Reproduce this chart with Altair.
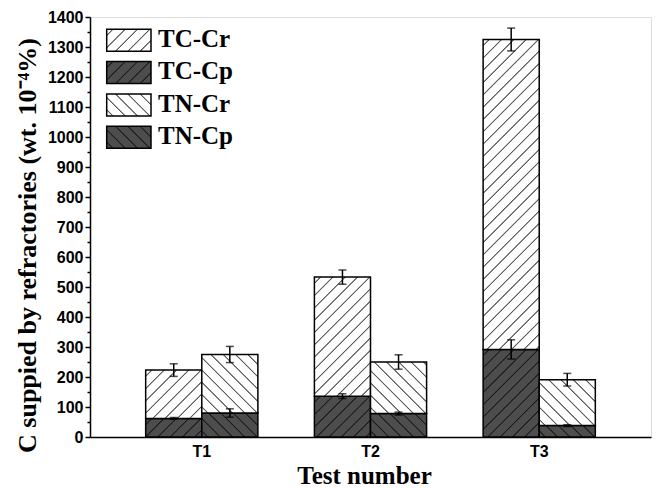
import math
import altair as alt
import pandas as pd

# ---------------- data ----------------
tests = ["T1", "T2", "T3"]
tc_cp = [62, 136, 292]          # TC-Cp (bottom of TC bar)
tc_cr = [161, 397, 1033]        # TC-Cr (stacked on top)
tn_cp = [80, 78, 38]            # TN-Cp
tn_cr = [195, 172, 153]         # TN-Cr
tc_cp_err = [3, 8, 32]
tc_cr_err = [21, 24, 38]
tn_cp_err = [14, 5, 3]
tn_cr_err = [27, 24, 21]
legend_labels = ["TC-Cr", "TC-Cp", "TN-Cr", "TN-Cp"]
y_ticks = list(range(0, 1401, 50))

# ---------------- layout / style constants ----------------
PLOT_W, PLOT_H = 561, 420
Y_MAX = 1400
PAD_INNER, PAD_OUTER = 0.335, 0.33
STEP = PLOT_W / (len(tests) - PAD_INNER + 2 * PAD_OUTER)
BAR_W = STEP * (1 - PAD_INNER) / 2
PX_PER_UNIT = PLOT_H / Y_MAX
LIGHT_BG, LIGHT_LINE = "#ffffff", "#5a5a5a"
DARK_BG, DARK_LINE = "#4d4d4d", "#1c1c1c"
SANS = "Liberation Sans"
SERIF = "Liberation Serif"


def hatch(w, h, direction, bg, fg, period=8.7, lw=1.1):
    """Diagonal hatch drawn as a hard-stop linear gradient (bbox units)."""
    L = (w + h) / math.sqrt(2)
    c = (w + h) / (w * w + h * h)
    if direction == "/":
        x1, y1, x2, y2 = 0, 0, w * c, h * c
    else:
        x1, y1, x2, y2 = 0, 1, w * c, 1 - h * c
    stops = [(0.0, bg)]
    hw, e = lw / 2, 0.3
    k = 0
    while True:
        cen = (k + 0.5) * period
        if cen - hw - e > L:
            break
        for off, col in ((cen - hw - e, bg), (cen - hw + e, fg),
                         (cen + hw - e, fg), (cen + hw + e, bg)):
            o = min(max(off / L, 0.0), 1.0)
            if o >= stops[-1][0]:
                stops.append((o, col))
        k += 1
    stops.append((1.0, bg))
    return alt.LinearGradient(
        gradient="linear",
        stops=[alt.GradientStop(offset=o, color=col) for o, col in stops],
        x1=x1, y1=y1, x2=x2, y2=y2,
    )


# ---------------- tables ----------------
seg_rows = []
err_rows = []
for i, t in enumerate(tests):
    for grp, cp, cr, cpe, cre in (("TC", tc_cp, tc_cr, tc_cp_err, tc_cr_err),
                                  ("TN", tn_cp, tn_cr, tn_cp_err, tn_cr_err)):
        seg_rows.append(dict(test=t, group=grp, part="Cp", y0=0, y1=cp[i]))
        seg_rows.append(dict(test=t, group=grp, part="Cr", y0=cp[i], y1=cp[i] + cr[i]))
        err_rows.append(dict(test=t, group=grp, center=cp[i], err=cpe[i]))
        err_rows.append(dict(test=t, group=grp, center=cp[i] + cr[i], err=cre[i]))
seg = pd.DataFrame(seg_rows)
errs = pd.DataFrame(err_rows)

y_axis = alt.Axis(
    title="C suppied by refractories (wt. 10⁻⁴%)",
    values=y_ticks, format="d",
    labelExpr="datum.value % 100 === 0 ? datum.label : ''",
    labelOverlap=False,
    tickSize={"condition": {"test": "datum.value % 100 === 0", "value": 5}, "value": 3},
    tickWidth=1.5, tickColor="black",
    domainColor="black", domainWidth=1.5,
    labelFont=SANS, labelFontWeight="bold", labelFontSize=16, labelColor="black",
    labelPadding=2,
    titleFont=SERIF, titleFontWeight="bold", titleFontSize=26, titleColor="black",
    titleX=-63, titleY=228, titleAlign="center", titleBaseline="middle", titleAngle=270,
    grid=False,
)
y_scale = alt.Scale(domain=[0, Y_MAX], nice=False)
x_axis = alt.Axis(
    title="Test number", labelAngle=0, tickSize=0, labelPadding=6,
    domainColor="black", domainWidth=1.5,
    labelFont=SANS, labelFontWeight="bold", labelFontSize=16, labelColor="black",
    titleFont=SERIF, titleFontWeight="bold", titleFontSize=25, titleColor="black",
    titleX=274, titleY=46, titleAlign="center", titleBaseline="alphabetic",
)
x_enc = alt.X("test:N", sort=tests, axis=x_axis,
              scale=alt.Scale(domain=tests, paddingInner=PAD_INNER, paddingOuter=PAD_OUTER))
xo_enc = alt.XOffset("group:N", scale=alt.Scale(domain=["TC", "TN"], paddingInner=0, paddingOuter=0))

layers = []
for _, r in seg.iterrows():
    h = (r.y1 - r.y0) * PX_PER_UNIT
    direction = "/" if r.group == "TC" else "\\"
    bg, fg = (DARK_BG, DARK_LINE) if r.part == "Cp" else (LIGHT_BG, LIGHT_LINE)
    layers.append(
        alt.Chart(seg[(seg.test == r.test) & (seg.group == r.group) & (seg.part == r.part)])
        .mark_bar(fill=hatch(BAR_W, h, direction, bg, fg), stroke="black", strokeWidth=1.5)
        .encode(x=x_enc, xOffset=xo_enc,
                y=alt.Y("y0:Q", scale=y_scale, axis=y_axis), y2="y1:Q")
    )

err_base = alt.Chart(errs).transform_calculate(
    lo="datum.center - datum.err", hi="datum.center + datum.err")
layers.append(err_base.mark_rule(color="black", strokeWidth=1.5).encode(
    x=x_enc, xOffset=xo_enc, y=alt.Y("lo:Q", scale=y_scale, axis=y_axis), y2="hi:Q"))
for fld in ("lo", "hi"):
    layers.append(err_base.mark_tick(color="black", orient="horizontal", size=8,
                                     thickness=1.5).encode(
        x=x_enc, xOffset=xo_enc, y=alt.Y(f"{fld}:Q", scale=y_scale, axis=y_axis)))

# ---------------- manual legend with hatched swatches ----------------
SW_X0, SW_X1, SW_H, SW_TOP, SW_GAP = 16.7, 61.0, 22.0, 12.3, 32.3
for j, lab in enumerate(legend_labels):
    grp, part = lab.split("-")
    direction = "/" if grp == "TC" else "\\"
    bg, fg = (DARK_BG, DARK_LINE) if part == "Cp" else (LIGHT_BG, LIGHT_LINE)
    top = SW_TOP + j * SW_GAP
    ldf = pd.DataFrame({"label": [lab]})
    layers.append(alt.Chart(ldf).mark_rect(
        fill=hatch(SW_X1 - SW_X0, SW_H, direction, bg, fg), stroke="black", strokeWidth=1.5
    ).encode(x=alt.value(SW_X0), x2=alt.value(SW_X1), y=alt.value(top), y2=alt.value(top + SW_H)))
    layers.append(alt.Chart(ldf).mark_text(
        align="left", baseline="alphabetic", font=SERIF, fontWeight="bold", fontSize=25,
        color="black"
    ).encode(x=alt.value(68), y=alt.value(top + 17.6), text="label:N"))

chart = (
    alt.layer(*layers)
    .properties(width=PLOT_W, height=PLOT_H,
                padding={"left": 90, "top": 17, "right": 9, "bottom": 51},
                autosize=alt.AutoSizeParams(type="none"))
    .configure_view(stroke="black", strokeWidth=1.5)
    .configure(background="white")
)

chart.save("out.html", embed_options={"renderer": "svg", "actions": False})
